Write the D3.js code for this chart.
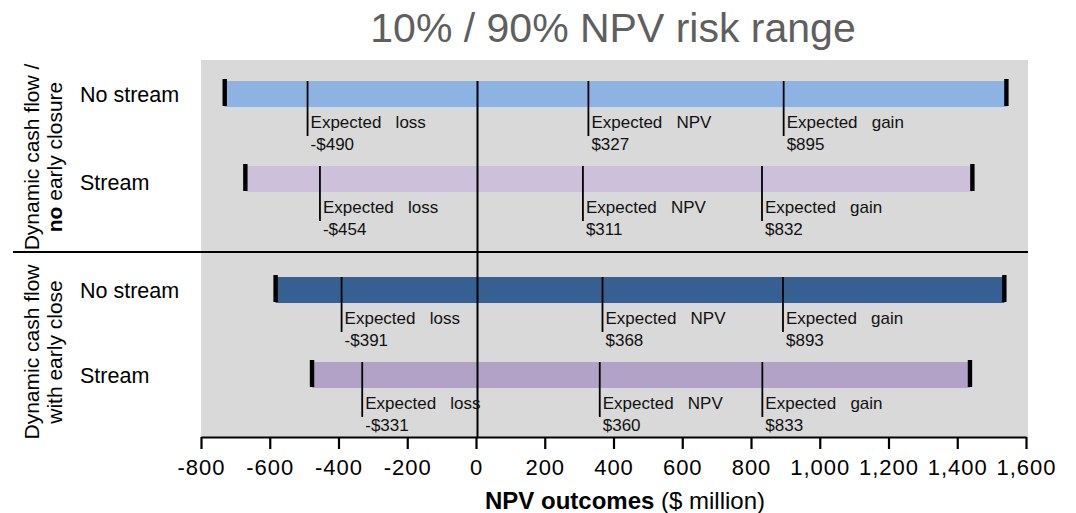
<!DOCTYPE html>
<html><head><meta charset="utf-8">
<script src="https://cdn.jsdelivr.net/npm/d3@7"></script>
<style>
body{margin:0;background:#fff}
text{font-family:"Liberation Sans",Arial,Helvetica,sans-serif}
</style>
</head><body>
<svg id="c" width="1076" height="513"></svg>
<script>
// ---- data ----
const title = "10% / 90% NPV risk range";
const rowLabels = ["No stream", "Stream", "No stream", "Stream"];
const rowGroup = [0, 0, 1, 1];
const p10 = [-731, -671, -583, -477];
const p90 = [1543, 1444, 1537, 1437];
const expLoss = [-490, -454, -391, -331];
const expNPV = [327, 311, 368, 360];
const expGain = [895, 832, 893, 833];
const barColors = ["#8DB3E2", "#CCC0DA", "#366092", "#B2A2C7"];
const xTickValues = [-800, -600, -400, -200, 0, 200, 400, 600, 800, 1000, 1200, 1400, 1600];
const groupLine1 = ["Dynamic cash flow /", "Dynamic cash flow"];
const groupLine2Bold = ["no", ""];
const groupLine2 = [" early closure", "with early close"];
const annNames = ["loss", "NPV", "gain"];

// ---- layout ----
const svg = d3.select("#c");
const plotL = 201, plotR = 1028, plotT = 60, plotB = 437;
const x = d3.scaleLinear().domain([-800, 1600]).range([201, 1026]);
const groupBarTop = [81, 277];
const yInner = d3.scaleBand().domain([0, 1]).range([0, 111]).paddingInner(0.694);
const bw = yInner.bandwidth();
const rowTop = i => groupBarTop[rowGroup[i]] + yInner(i % 2);
const fmtVal = v => (v < 0 ? "-$" : "$") + Math.abs(v);

// background
svg.append("rect").attr("x", plotL).attr("y", plotT)
  .attr("width", plotR - plotL).attr("height", plotB - plotT).attr("fill", "#D9D9D9");

// title
svg.append("text").attr("x", 613).attr("y", 42).attr("text-anchor", "middle")
  .attr("font-size", 41).attr("fill", "#5f5f5f").text(title);

const rows = d3.range(rowLabels.length);

// bars
svg.selectAll("rect.bar").data(rows).join("rect").attr("class", "bar")
  .attr("x", i => x(p10[i])).attr("y", i => rowTop(i))
  .attr("width", i => x(p90[i]) - x(p10[i])).attr("height", bw)
  .attr("fill", i => barColors[i]);

// zero line
svg.append("line").attr("x1", x(0) + 1.5).attr("x2", x(0) + 1.5).attr("y1", groupBarTop[0]).attr("y2", plotB)
  .attr("stroke", "#000").attr("stroke-width", 2);

// end markers
rows.forEach(i => {
  [p10[i], p90[i]].forEach(v => {
    svg.append("rect").attr("x", x(v) - 2.2).attr("y", rowTop(i) - 2)
      .attr("width", 4.4).attr("height", bw + 1).attr("fill", "#000");
  });
});

// expected markers and annotations
rows.forEach(i => {
  const vals = [expLoss[i], expNPV[i], expGain[i]];
  vals.forEach((v, k) => {
    const top = rowTop(i);
    svg.append("line").attr("x1", x(v)).attr("x2", x(v))
      .attr("y1", top).attr("y2", top + bw + 29)
      .attr("stroke", "#000").attr("stroke-width", 1.8);
    const t = svg.append("text").attr("font-size", 17).attr("fill", "#111")
      .style("white-space", "pre");
    t.append("tspan").attr("x", x(v) + 3).attr("y", top + bw + 21).text("Expected   " + annNames[k]);
    t.append("tspan").attr("x", x(v) + 3).attr("y", top + bw + 43).text(fmtVal(v));
  });
});

// row labels
svg.selectAll("text.row").data(rows).join("text").attr("class", "row")
  .attr("x", 80).attr("y", i => rowTop(i) + 21 + (i === 1 ? 3 : 0))
  .attr("font-size", 21.5).attr("fill", "#000").text(i => rowLabels[i]);

// separator
svg.append("line").attr("x1", 13).attr("x2", plotR).attr("y1", 252).attr("y2", 252)
  .attr("stroke", "#000").attr("stroke-width", 2);

// group labels (rotated)
const gCenters = [157, 352];
[0, 1].forEach(g => {
  svg.append("text").attr("transform", `translate(39,${gCenters[g]}) rotate(-90)`)
    .attr("text-anchor", "middle").attr("font-size", 21).attr("fill", "#000")
    .text(groupLine1[g]);
  const t2 = svg.append("text").attr("transform", `translate(62,${gCenters[g]}) rotate(-90)`)
    .attr("text-anchor", "middle").attr("font-size", 21).attr("fill", "#000")
    .style("white-space", "pre");
  if (groupLine2Bold[g]) t2.append("tspan").attr("font-weight", "bold").text(groupLine2Bold[g]);
  t2.append("tspan").text(groupLine2[g]);
});

// x axis
const axis = d3.axisBottom(x).tickValues(xTickValues).tickSize(12).tickSizeOuter(0).tickPadding(10)
  .tickFormat(d => d3.format(",")(d).replace("\u2212", "-"));
const ga = svg.append("g").attr("transform", `translate(0,${plotB})`).call(axis);
ga.select(".domain").attr("stroke", "#000").attr("stroke-width", 2.2);
ga.selectAll(".tick line").attr("stroke", "#000").attr("stroke-width", 2.2);
ga.selectAll(".tick text").attr("font-size", 22).attr("fill", "#000")
  .attr("font-family", "'Liberation Sans',Arial,sans-serif").style("letter-spacing", "1px");

// x axis title
const xt = svg.append("text").attr("x", 625).attr("y", 509).attr("text-anchor", "middle")
  .attr("font-size", 24).attr("fill", "#000").style("white-space", "pre");
xt.append("tspan").attr("font-weight", "bold").text("NPV outcomes");
xt.append("tspan").text(" ($ million)");
</script>
</body></html>
